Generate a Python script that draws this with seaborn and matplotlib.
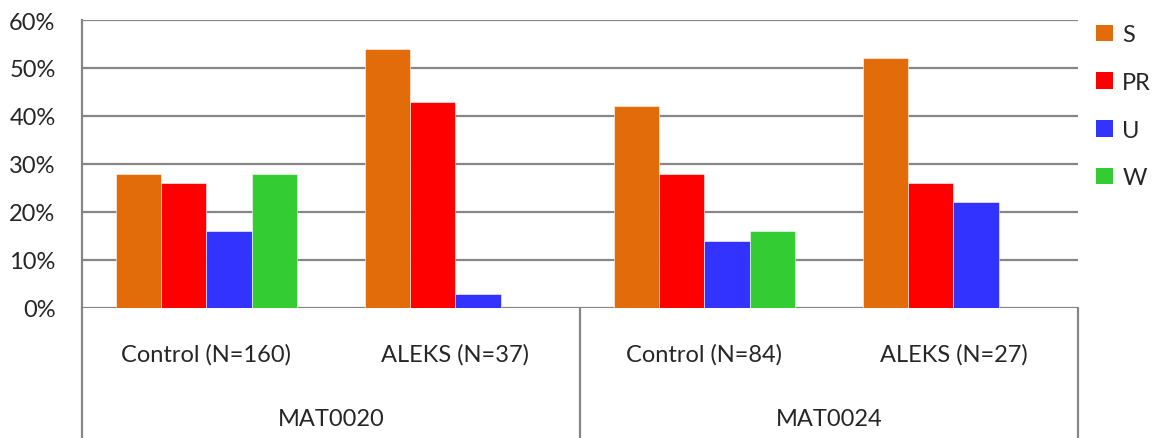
import matplotlib
matplotlib.use("Agg")
import matplotlib.pyplot as plt
from matplotlib.patches import Patch
from matplotlib.ticker import PercentFormatter
import pandas as pd
import seaborn as sns

groups = ["Control (N=160)", "ALEKS (N=37)", "Control (N=84)", "ALEKS (N=27)"]
courses = ["MAT0020", "MAT0024"]
outcomes = ["S", "PR", "U", "W"]
s_vals = [0.28, 0.54, 0.42, 0.52]
pr_vals = [0.26, 0.43, 0.28, 0.26]
u_vals = [0.16, 0.03, 0.14, 0.22]
w_vals = [0.28, 0.0, 0.16, 0.0]
colors = ["#E36C0A", "#FF0000", "#3333FF", "#33CC33"]


def main():
    rows = []
    for name, vals in zip(outcomes, [s_vals, pr_vals, u_vals, w_vals]):
        for g, v in zip(groups, vals):
            rows.append({"group": g, "outcome": name, "value": v})
    df = pd.DataFrame(rows)

    sns.set_style("white")
    plt.rcParams["font.family"] = ["Lato", "DejaVu Sans"]

    fig = plt.figure(figsize=(11.53, 4.39), dpi=100)
    ax = fig.add_axes([82 / 1153, 1 - 309 / 439, 996 / 1153, 288 / 439])

    sns.barplot(data=df, x="group", y="value", hue="outcome", order=groups,
                hue_order=outcomes, palette=colors, width=0.727, gap=0,
                edgecolor="white", linewidth=0.4, saturation=1, ax=ax,
                legend=False, zorder=3)

    ax.set_ylim(0, 0.6)
    ax.set_yticks([0, 0.1, 0.2, 0.3, 0.4, 0.5, 0.6])
    ax.yaxis.set_major_formatter(PercentFormatter(xmax=1, decimals=0))
    ax.set_xlim(-0.5, 3.5)
    ax.grid(axis="y", color="#868686", linewidth=1.6, zorder=0)
    ax.set_axisbelow(True)
    for side in ["top", "right", "bottom"]:
        ax.spines[side].set_visible(False)
    ax.spines["left"].set_color("#868686")
    ax.spines["left"].set_linewidth(1.6)
    ax.set_xlabel("")
    ax.set_ylabel("")
    ax.tick_params(axis="y", labelsize=17, length=0, pad=19)
    ax.tick_params(axis="x", labelsize=17, length=0, pad=25)

    # category separators below the axis
    trans = ax.get_xaxis_transform()
    for x in [-0.5, 1.5, 3.5]:
        ax.plot([x, x], [0, -130 / 288], transform=trans, color="#868686",
                linewidth=1.6, clip_on=False)
    for i, c in enumerate(courses):
        ax.text(2 * i + 0.5, -111 / 288, c, transform=trans, ha="center",
                va="center", fontsize=17)

    handles = [Patch(facecolor=col, edgecolor="none") for col in colors]
    fig.legend(handles, outcomes, loc="upper left",
               bbox_to_anchor=(1075 / 1153, 1 - 4 / 439), frameon=False,
               fontsize=17, handlelength=0.7, handleheight=0.7,
               handletextpad=0.4, labelspacing=1.13)

    fig.savefig("out.png", dpi=100)


if __name__ == "__main__":
    main()
